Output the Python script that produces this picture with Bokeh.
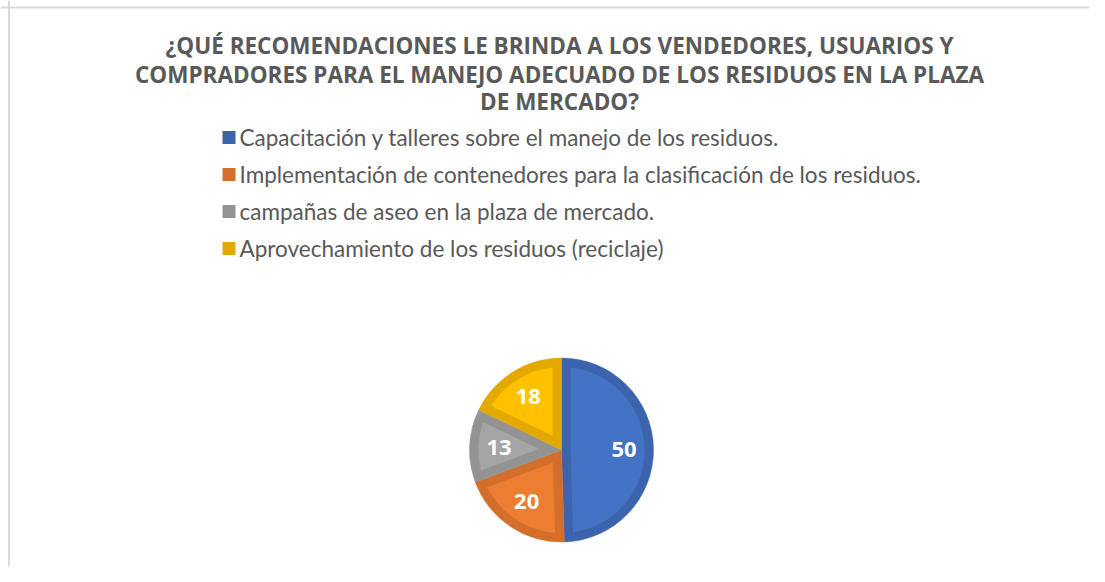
import numpy as np
from bokeh.plotting import figure
from bokeh.models import Range1d, Span
from bokeh.core.properties import value
from bokeh.embed import file_html
from bokeh.resources import INLINE

# ---- data ----
title_lines = [
    "¿QUÉ RECOMENDACIONES LE BRINDA A LOS VENDEDORES, USUARIOS Y",
    "COMPRADORES PARA EL MANEJO ADECUADO DE LOS RESIDUOS EN LA PLAZA",
    "DE MERCADO?",
]
categories = [
    "Capacitación y talleres sobre el manejo de los residuos.",
    "Implementación de contenedores para la clasificación de los residuos.",
    "campañas de aseo en la plaza de mercado.",
    "Aprovechamiento de los residuos (reciclaje)",
]
counts = [50, 20, 13, 18]
fill_colors = ["#4472C4", "#ED7D31", "#A5A5A5", "#FFC000"]
edge_colors = ["#3B64AD", "#D46F2B", "#939393", "#E2AA00"]

# ---- layout (pixel-like data space, measured from the top) ----
W, H = 1089, 566
CX, CY, R = 561, H - 449.5, 92
INSET = 9

p = figure(width=W, height=H, x_range=Range1d(0, W), y_range=Range1d(0, H),
           output_backend="svg", toolbar_location=None, min_border=0,
           x_axis_location=None, y_axis_location=None)
p.grid.visible = False
p.outline_line_color = None
p.background_fill_color = "white"
p.border_fill_color = "white"

p.add_layout(Span(location=8.5, dimension="height", line_color="#d9d9d9", line_width=2))
p.add_layout(Span(location=H - 7, dimension="width", line_color="#d9d9d9", line_width=2))

# title
p.text(x=[559] * len(title_lines), y=[H - 45, H - 74, H - 101], text=title_lines,
       text_font=value("Open Sans"), text_font_style="bold", text_font_size="22.5px",
       text_color="#595959", text_align="center", text_baseline="middle")

# legend
ly = [H - 137 - 37 * i for i in range(len(categories))]
p.scatter(x=[228.5] * len(categories), y=ly, marker="square", size=13,
          fill_color=edge_colors, line_color=None)
p.text(x=[239] * len(categories), y=ly, text=categories,
       text_font=value("Lato"), text_font_size="22.5px", text_color="#595959",
       text_align="left", text_baseline="middle")

# pie
total = float(sum(counts))
cum = np.concatenate([[0], np.cumsum(counts)]) / total
start = np.pi / 2 - 2 * np.pi * cum[1:]
end = np.pi / 2 - 2 * np.pi * cum[:-1]
p.wedge(x=CX, y=CY, radius=R, start_angle=start, end_angle=end,
        fill_color=edge_colors, line_color=edge_colors, line_width=0.5)

xs, ys = [], []
for a1, a2 in zip(start, end):
    th = a2 - a1
    mid = (a1 + a2) / 2
    ad = INSET / np.sin(th / 2)
    ax, ay = CX + ad * np.cos(mid), CY + ad * np.sin(mid)
    phi = np.arcsin(INSET / (R - INSET))
    arc = np.linspace(a1 + phi, a2 - phi, 60)
    xs.append([ax] + list(CX + (R - INSET) * np.cos(arc)))
    ys.append([ay] + list(CY + (R - INSET) * np.sin(arc)))
p.patches(xs=xs, ys=ys, fill_color=fill_colors, line_color=None)

mids = (start + end) / 2
lr = 0.68 * R
p.text(x=CX + lr * np.cos(mids), y=CY + lr * np.sin(mids), text=[str(c) for c in counts],
       text_font=value("Open Sans"), text_font_style="bold", text_font_size="22px",
       text_color="white", text_align="center", text_baseline="middle")

open("out.html", "w").write(file_html(p, INLINE))
